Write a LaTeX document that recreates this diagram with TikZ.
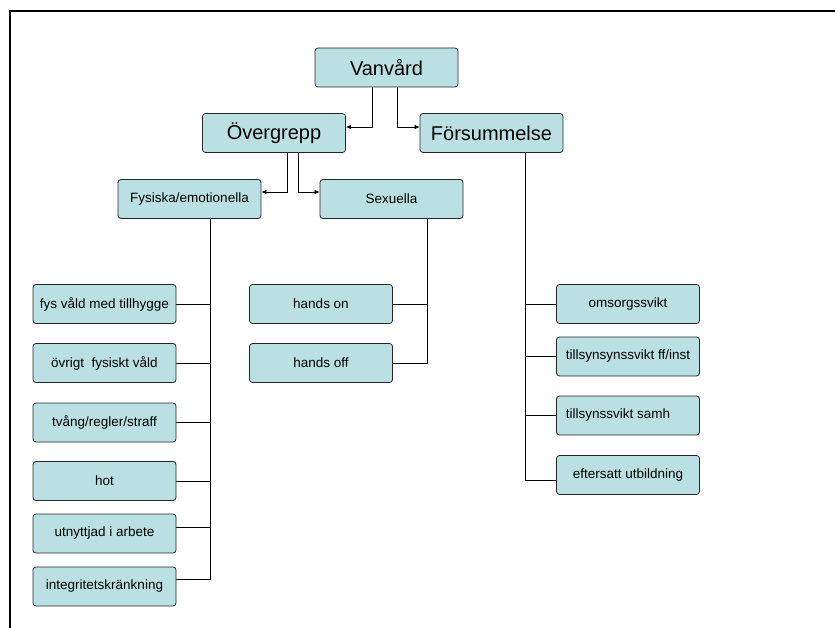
\documentclass[tikz,border=0pt]{standalone}
\usepackage{fontspec}
\setmainfont{Liberation Sans}
\usetikzlibrary{arrows.meta}
\definecolor{boxfill}{RGB}{187,224,227}
\tikzset{
  box/.style={draw=black!85,fill=boxfill,rounded corners=3pt,line width=0.8pt,
    minimum width=143pt,minimum height=39pt,inner sep=0pt,
    font=\fontsize{13.5}{16}\selectfont},
  bigbox/.style={box,font=\fontsize{20}{24}\selectfont},
  arw/.style={-{Latex[length=5pt,width=4.5pt]},line width=0.7pt},
  lnk/.style={line width=0.7pt}
}
\begin{document}
\begin{tikzpicture}[x=1pt,y=-1pt]
\useasboundingbox (0,0) rectangle (835,628);
% ram
\draw[line width=2pt] (10,628) -- (10,11) -- (835,11);
% toppnivaa
\node[bigbox] (van) at (386.5,67.5) {Vanvård};
\node[bigbox] (over) at (274,133) {Övergrepp};
\node[bigbox] (fors) at (491.5,133) {Försummelse};
\node[box] (fys) at (189.5,199) {Fysiska/emotionella};
\node[box] (sex) at (391.5,199) {Sexuella};
% Fysiska/emotionella
\node[box] (f1) at (104.5,304) {fys våld med tillhygge};
\node[box] (f2) at (104.5,363) {övrigt\ \ fysiskt våld};
\node[box] (f3) at (104.5,422.5) {tvång/regler/straff};
\node[box] (f4) at (104.5,481) {hot};
\node[box] (f5) at (104.5,533.5) {utnyttjad i arbete};
\node[box] (f6) at (104.5,586.5) {integritetskränkning};
% Sexuella
\node[box] (s1) at (321,304) {hands on};
\node[box] (s2) at (321,363) {hands off};
% Forsummelse
\node[box] (g1) at (628,304) {omsorgssvikt};
\node[box] (g2) at (628,356.5) {tillsynsynssvikt ff/inst};
\node[box] (g3) at (628,415.5) {\hspace*{-20pt}tillsynssvikt samh};
\node[box] (g4) at (628,475) {eftersatt utbildning};
% pilar
\draw[arw] ([xshift=-14.5pt]van.south) |- ([yshift=6pt]over.east);
\draw[arw] ([xshift=10.5pt]van.south) |- ([yshift=6pt]fors.west);
\draw[arw] ([xshift=13pt]over.south) |- ([yshift=7pt]fys.east);
\draw[arw] ([xshift=24pt]over.south) |- ([yshift=7pt]sex.west);
% stammar
\coordinate (ft) at ([xshift=20.5pt]fys.south);
\coordinate (st) at ([xshift=35.5pt]sex.south);
\coordinate (gt) at ([xshift=33.5pt]fors.south);
\draw[lnk] (ft) |- ([yshift=7pt]f6.east);
\foreach \leaf/\dy in {f1/0,f2/0,f3/0,f4/0,f5/6}
  \draw[lnk] ([yshift=\dy pt]\leaf.east) -- ([yshift=\dy pt]\leaf.east -| ft);
\draw[lnk] (st) |- (s2.east);
\draw[lnk] (s1.east) -- (s1.east -| st);
\draw[lnk] (gt) |- ([yshift=-5pt]g4.west);
\foreach \leaf in {g1,g2,g3}
  \draw[lnk] (\leaf.west) -- (\leaf.west -| gt);
\end{tikzpicture}
\end{document}
